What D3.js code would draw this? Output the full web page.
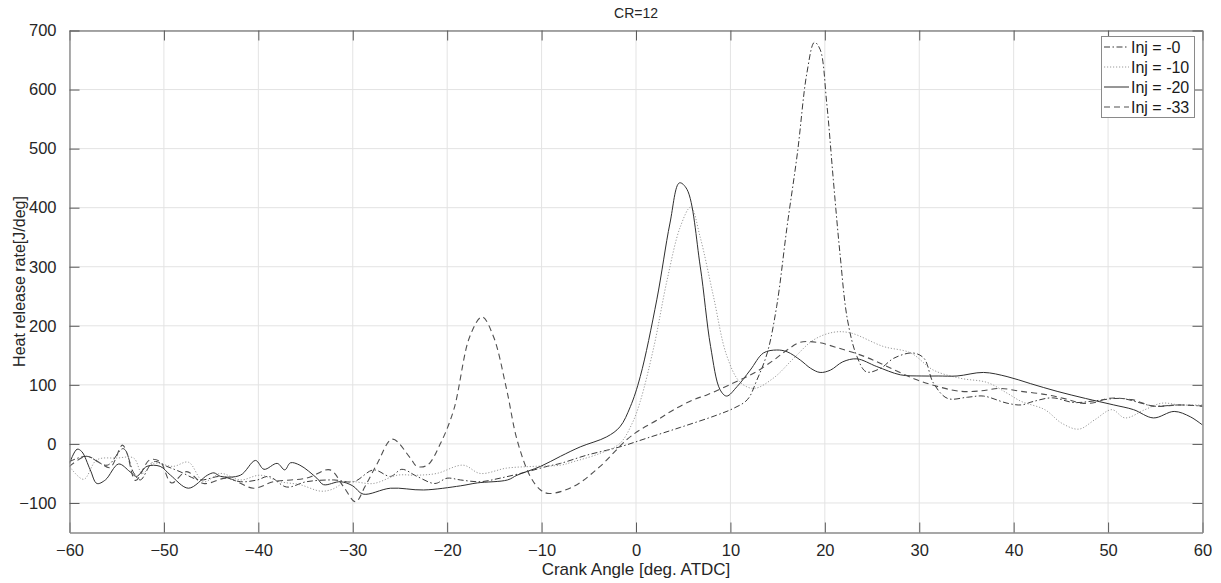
<!DOCTYPE html>
<html>
<head>
<meta charset="utf-8">
<script src="https://cdn.jsdelivr.net/npm/d3@7"></script>
<style>
  html, body { margin: 0; padding: 0; background: #fff; }
  svg { display: block; font-family: "Liberation Sans", Arial, Helvetica, sans-serif; }
</style>
</head>
<body>
<svg id="chart" width="1221" height="583"></svg>
<script>
// ---------------- data ----------------
const chartTitle = "CR=12";
const xLabel = "Crank Angle [deg. ATDC]";
const yLabel = "Heat release rate[J/deg]";
const xTicks = [-60, -50, -40, -30, -20, -10, 0, 10, 20, 30, 40, 50, 60];
const yTicks = [-100, 0, 100, 200, 300, 400, 500, 600, 700];
const seriesNames = ["Inj = -0", "Inj = -10", "Inj = -20", "Inj = -33"];

// Inj = -0 (dash-dot)
const inj0Angle = [-60, -58.2, -56, -54.3, -53.2, -52.5, -51.1, -49.7, -48.3, -46.2, -44, -41.9, -40.1, -38.9, -37, -34.9, -32, -29.9, -27.8, -26, -24.8, -23.2, -21.3, -20, -18.6, -16.5, -14.4, -11.5, -9.4, -8, -5.2, -1.7, 1.2, 4.7, 8.6, 10.3, 11.8, 12.8, 13.9, 14.9, 16, 17.1, 18.1, 18.9, 19.5, 20.2, 20.9, 21.6, 22.4, 23.4, 24.4, 25.9, 27.3, 29.3, 30.5, 31.5, 33, 35.1, 36.8, 39.3, 40.8, 42.1, 44.1, 46.4, 48.6, 51.4, 53.5, 54.8, 57.6, 60];
const inj0Hrr = [-30, -21, -36, -8, -49, -61, -30, -38, -47, -61, -55, -64, -61, -55, -73, -64, -61, -64, -44, -55, -43, -55, -67, -58, -61, -64, -58, -47, -38, -33, -19, -5, 10, 28, 49, 60, 75, 108, 154, 233, 368, 493, 628, 680, 668, 577, 447, 323, 210, 148, 122, 128, 145, 154, 145, 103, 77, 79, 81, 69, 66, 72, 78, 70, 73, 77, 69, 64, 66, 64];

// Inj = -10 (dotted)
const inj10Angle = [-60, -58.5, -57.1, -55, -53.2, -52.3, -51.1, -49, -47.4, -45.8, -44, -41.9, -39.8, -37.7, -35.6, -33.4, -32.2, -30.6, -27.8, -25.3, -23.2, -21.1, -18.3, -16.5, -13.7, -10.8, -8, -6.6, -3.8, -1.7, -0.4, 0.45, 1.9, 3.3, 4.7, 5.8, 6.8, 8.2, 9.6, 11, 12.5, 14.6, 16.7, 18.8, 20.9, 22.7, 26.2, 29.1, 31.5, 34.4, 37.2, 39.3, 40.8, 43.3, 45.1, 46.9, 48.6, 50.4, 51.8, 53.9, 55.7, 57.6, 60];
const inj10Hrr = [-38, -60, -27, -24, -24, -50, -33, -38, -31, -64, -50, -61, -53, -64, -69, -80, -77, -64, -67, -53, -53, -50, -36, -50, -41, -38, -36, -30, -16, 1, 35, 72, 165, 278, 368, 401, 350, 250, 150, 105, 94, 112, 145, 176, 189, 188, 165, 154, 125, 111, 104, 86, 72, 58, 35, 25, 41, 58, 44, 58, 69, 66, 66];

// Inj = -20 (solid)
const inj20Angle = [-60, -59.2, -58.7, -57.8, -57.1, -56.2, -54.8, -53.6, -52.9, -51.8, -50.4, -49.3, -47.4, -45.4, -44.7, -44, -41.9, -40.3, -39.4, -38, -37.2, -36.6, -35.6, -33.8, -33.1, -31.3, -30, -28.9, -26, -22.5, -18.6, -16.8, -13.6, -12.6, -10.1, -8, -5.9, -3.1, -1.7, -0.6, 0.45, 2.2, 3.6, 4.6, 5.4, 6.8, 7.9, 8.9, 9.6, 10.7, 12.1, 13.5, 14.9, 16, 17.4, 18.5, 19.5, 20.6, 21.9, 23.4, 25.5, 28, 30.2, 32, 34, 36.8, 39.3, 41.8, 44.6, 47.6, 50.6, 52.7, 54.8, 57, 58.7, 60];
const inj20Hrr = [-33, -9, -13, -44, -67, -61, -34, -47, -55, -38, -38, -53, -75, -53, -49, -55, -53, -28, -43, -33, -44, -32, -36, -58, -69, -64, -71, -85, -75, -78, -71, -66, -61, -53, -38, -21, -5, 12, 29, 63, 114, 244, 374, 442, 431, 301, 165, 92, 81, 97, 125, 154, 159, 156, 142, 128, 121, 125, 139, 144, 131, 117, 115, 115, 115, 121, 114, 102, 89, 77, 66, 58, 44, 55, 46, 32];

// Inj = -33 (dashed)
const inj33Angle = [-60, -58.2, -56.7, -55.7, -54.4, -53.9, -53, -51.5, -50.4, -49.2, -47.6, -45.8, -43.3, -40.5, -38.4, -34.9, -32.4, -31, -29.7, -28.7, -27.4, -25.8, -23.9, -23.2, -22.1, -20.7, -19.3, -17.6, -16.3, -15.1, -13.7, -12.6, -11.2, -10.1, -9.2, -6.6, -3.8, -1, 0.45, 2.2, 4, 6.1, 7.5, 10.3, 12.5, 14.6, 16, 17.4, 19.2, 21.3, 24.2, 26.6, 29.5, 32, 34.4, 36.6, 38.5, 40.8, 43.6, 45.8, 47.2, 48.6, 50, 52.5, 54.8, 57.6, 60];
const inj33Hrr = [-38, -21, -33, -40, -2, -16, -62, -27, -30, -66, -47, -67, -58, -75, -64, -58, -44, -72, -98, -72, -33, 8, -24, -38, -36, 1, 58, 182, 215, 182, 92, 7, -55, -78, -84, -72, -38, 7, 24, 40, 58, 75, 83, 103, 120, 142, 159, 172, 172, 163, 148, 131, 110, 97, 89, 90, 94, 89, 83, 75, 69, 70, 77, 75, 64, 66, 64];

// ---------------- layout ----------------
const W = 1221, H = 583;
const m = { left: 69.5, right: 1202.5, top: 30.5, bottom: 532.5 };

const svg = d3.select("#chart");
const x = d3.scaleLinear().domain([-60, 60]).range([m.left, m.right]);
const y = d3.scaleLinear().domain([-150, 700]).range([m.bottom, m.top]);

// grid
const grid = svg.append("g");
grid.selectAll("line.gx").data(xTicks).join("line")
  .attr("x1", d => x(d)).attr("x2", d => x(d))
  .attr("y1", m.top).attr("y2", m.bottom)
  .attr("stroke", "#e3e3e3").attr("stroke-width", 1);
grid.selectAll("line.gy").data(yTicks).join("line")
  .attr("x1", m.left).attr("x2", m.right)
  .attr("y1", d => y(d)).attr("y2", d => y(d))
  .attr("stroke", "#e3e3e3").attr("stroke-width", 1);

// clip
svg.append("defs").append("clipPath").attr("id", "clip")
  .append("rect").attr("x", m.left).attr("y", m.top)
  .attr("width", m.right - m.left).attr("height", m.bottom - m.top);

const series = [
  { name: seriesNames[0], xs: inj0Angle, ys: inj0Hrr, color: "#3a3a3a", dash: "6,2.5,1.5,2.5", width: 1 },
  { name: seriesNames[1], xs: inj10Angle, ys: inj10Hrr, color: "#9a9a9a", dash: "1.2,1.8", width: 1 },
  { name: seriesNames[2], xs: inj20Angle, ys: inj20Hrr, color: "#2e2e2e", dash: null, width: 1 },
  { name: seriesNames[3], xs: inj33Angle, ys: inj33Hrr, color: "#505050", dash: "6,4", width: 1.1 }
];

const line = d3.line().x(d => x(d[0])).y(d => y(d[1])).curve(d3.curveCatmullRom.alpha(0.5));
const plot = svg.append("g").attr("clip-path", "url(#clip)");
series.forEach(s => {
  const pts = s.xs.map((v, i) => [v, s.ys[i]]);
  plot.append("path").datum(pts)
    .attr("d", line)
    .attr("fill", "none")
    .attr("stroke", s.color)
    .attr("stroke-width", s.width)
    .attr("stroke-dasharray", s.dash);
});

// axes (box with inward ticks on all sides)
const tickLen = 10;
const axB = d3.axisBottom(x).tickValues(xTicks).tickSizeInner(-tickLen).tickSizeOuter(0).tickPadding(13).tickFormat(d3.format("d"));
const axT = d3.axisTop(x).tickValues(xTicks).tickSizeInner(-tickLen).tickSizeOuter(0).tickFormat("");
const axL = d3.axisLeft(y).tickValues(yTicks).tickSizeInner(-tickLen).tickSizeOuter(0).tickPadding(13).tickFormat(d3.format("d"));
const axR = d3.axisRight(y).tickValues(yTicks).tickSizeInner(-tickLen).tickSizeOuter(0).tickFormat("");

function styleAxis(g) {
  g.select(".domain").attr("stroke", "#8a8a8a").attr("stroke-width", 1.4);
  g.selectAll(".tick line").attr("stroke", "#5a5a5a").attr("stroke-width", 1);
  g.selectAll(".tick text").attr("fill", "#262626").style("font-size", "16.5px");
}
svg.append("g").attr("transform", `translate(0,${m.bottom})`).call(axB).call(styleAxis)
  .selectAll(".tick text").attr("dy", "0.62em");
svg.append("g").attr("transform", `translate(0,${m.top})`).call(axT).call(styleAxis);
svg.append("g").attr("transform", `translate(${m.left},0)`).call(axL).call(styleAxis);
svg.append("g").attr("transform", `translate(${m.right},0)`).call(axR).call(styleAxis);

// titles
svg.append("text").attr("x", (m.left + m.right) / 2).attr("y", 18)
  .attr("text-anchor", "middle").attr("fill", "#262626").style("font-size", "14px").text(chartTitle);
svg.append("text").attr("x", (m.left + m.right) / 2).attr("y", 575)
  .attr("text-anchor", "middle").attr("fill", "#262626").style("font-size", "17px").text(xLabel);
svg.append("text").attr("transform", `translate(25,${(m.top + m.bottom) / 2}) rotate(-90)`)
  .attr("text-anchor", "middle").attr("fill", "#262626").style("font-size", "16px").text(yLabel);

// legend
const lg = svg.append("g");
lg.append("rect").attr("x", 1101.5).attr("y", 36.5).attr("width", 93).attr("height", 81)
  .attr("fill", "#fff").attr("stroke", "#8a8a8a").attr("stroke-width", 1);
series.forEach((s, i) => {
  const cy = 47 + i * 20;
  lg.append("line").attr("x1", 1104).attr("x2", 1129).attr("y1", cy).attr("y2", cy)
    .attr("stroke", s.color).attr("stroke-width", s.width).attr("stroke-dasharray", s.dash);
  lg.append("text").attr("x", 1131).attr("y", cy).attr("dy", "0.35em")
    .attr("fill", "#1a1a1a").style("font-size", "16px").text(s.name);
});
</script>
</body>
</html>
